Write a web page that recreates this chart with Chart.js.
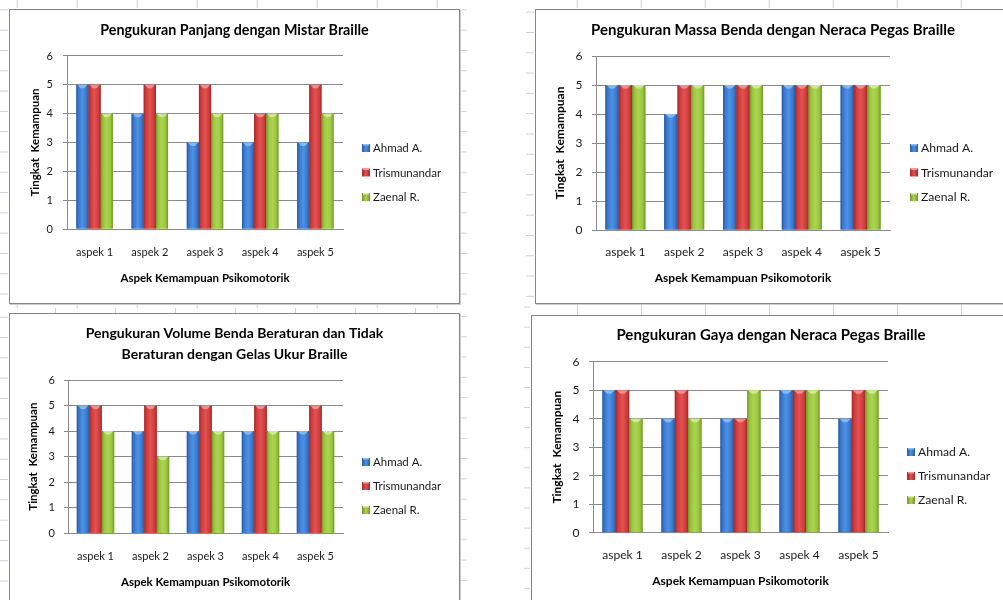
<!DOCTYPE html>
<html>
<head>
<meta charset="utf-8">
<script src="https://cdn.jsdelivr.net/npm/chart.js@4.4.1/dist/chart.umd.min.js"></script>
<style>
  html, body { margin: 0; padding: 0; background: #fff; }
  body { width: 1003px; height: 600px; position: relative; overflow: hidden; font-family: Lato, sans-serif; }
  .box { position: absolute; box-sizing: border-box; border: 1px solid #858585; background: #fff;
         box-shadow: 1px 1px 0 #cdcdcd; }
  .stub { position: absolute; background-repeat: repeat; }
  canvas { position: absolute; }
</style>
</head>
<body>
<div class="box" style="left:9px;top:9px;width:451px;height:295px"></div>
<div class="box" style="left:535px;top:9px;width:480px;height:295px"></div>
<div class="box" style="left:9px;top:313px;width:451px;height:300px"></div>
<div class="box" style="left:531px;top:315px;width:480px;height:300px"></div>

<canvas id="c1" width="449" height="293" style="left:10px;top:10px"></canvas>
<canvas id="c2" width="474" height="293" style="left:536px;top:10px"></canvas>
<canvas id="c3" width="449" height="286" style="left:10px;top:314px"></canvas>
<canvas id="c4" width="478" height="284" style="left:532px;top:316px"></canvas>

<script>
// ---- data ----
const categories = ['aspek 1', 'aspek 2', 'aspek 3', 'aspek 4', 'aspek 5'];
const seriesNames = ['Ahmad A.', 'Trismunandar', 'Zaenal R.'];
const yTickValues = [0, 1, 2, 3, 4, 5, 6];
const xAxisTitle = 'Aspek Kemampuan Psikomotorik';
const yAxisTitle = 'Tingkat  Kemampuan';

const titlePanjang = 'Pengukuran Panjang dengan Mistar Braille';
const panjangAhmad = [5, 4, 3, 3, 3];
const panjangTris = [5, 5, 5, 4, 5];
const panjangZaenal = [4, 4, 4, 4, 4];

const titleMassa = 'Pengukuran Massa Benda dengan Neraca Pegas Braille';
const massaAhmad = [5, 4, 5, 5, 5];
const massaTris = [5, 5, 5, 5, 5];
const massaZaenal = [5, 5, 5, 5, 5];

const titleVolume = ['Pengukuran Volume Benda Beraturan dan Tidak', 'Beraturan dengan Gelas Ukur Braille'];
const volumeAhmad = [5, 4, 4, 4, 4];
const volumeTris = [5, 5, 5, 5, 5];
const volumeZaenal = [4, 3, 4, 4, 4];

const titleGaya = 'Pengukuran Gaya dengan Neraca Pegas Braille';
const gayaAhmad = [5, 4, 4, 5, 4];
const gayaTris = [5, 5, 4, 5, 5];
const gayaZaenal = [4, 4, 5, 5, 5];

// ---- styling ----
const FONT = 'Lato, "Open Sans", sans-serif';
const GRID = '#8a8a8a';
const palette = [
  { base: '#3b78cc', dark: '#27599e', light: '#4d92e6', cap: '#8fc0f5' },
  { base: '#d03b3b', dark: '#a12828', light: '#e25252', cap: '#f29a9a' },
  { base: '#98c43c', dark: '#6e952a', light: '#aed452', cap: '#d6ef9a' }
];

// decorative spreadsheet gridline stubs around the embedded charts
function stubs(x, y, w, h, dir, period, offset) {
  const d = document.createElement('div');
  d.className = 'stub';
  d.style.left = x + 'px'; d.style.top = y + 'px';
  d.style.width = w + 'px'; d.style.height = h + 'px';
  const c = '#c7d0dd';
  if (dir === 'h') {
    d.style.backgroundImage = `linear-gradient(to bottom, ${c} 0, ${c} 1px, transparent 1px)`;
    d.style.backgroundSize = `100% ${period}px`;
    d.style.backgroundPosition = `0 ${offset}px`;
  } else {
    d.style.backgroundImage = `linear-gradient(to right, ${c} 0, ${c} 1px, transparent 1px)`;
    d.style.backgroundSize = `${period}px 100%`;
    d.style.backgroundPosition = `${offset}px 0`;
  }
  document.body.insertBefore(d, document.body.firstChild);
}
stubs(0, 0, 8, 303, 'h', 20.3, 9.4);
stubs(0, 303, 8, 297, 'h', 20.3, 13.7);
stubs(9, 0, 451, 8, 'v', 60, 7.7);
stubs(535, 0, 468, 8, 'v', 64, 41.7);
stubs(461, 0, 6, 303, 'h', 20.3, 9.4);
stubs(461, 303, 6, 297, 'h', 20.3, 13);
stubs(526, 0, 8, 303, 'h', 20.3, 11.7);
stubs(524, 303, 6, 297, 'h', 20.1, 23.7);
stubs(9, 304, 451, 4, 'v', 60, 7.7);
stubs(9, 308, 451, 5, 'v', 60, 46);
stubs(535, 305, 468, 10, 'v', 64, 42);

// glossy shading drawn over each bar Chart.js has laid out
const barGloss = {
  id: 'barGloss',
  afterDatasetsDraw(chart) {
    const ctx = chart.ctx;
    chart.getSortedVisibleDatasetMetas().forEach(meta => {
      const p = palette[meta.index % palette.length];
      meta.data.forEach(el => {
        const { x, y, base, width } = el.getProps(['x', 'y', 'base', 'width'], true);
        const left = x - width / 2, right = x + width / 2;
        const g = ctx.createLinearGradient(left, 0, right, 0);
        g.addColorStop(0, p.dark);
        g.addColorStop(0.18, p.base);
        g.addColorStop(0.5, p.light);
        g.addColorStop(0.82, p.base);
        g.addColorStop(1, p.dark);
        ctx.save();
        ctx.fillStyle = g;
        ctx.fillRect(left, y, width, base - y);
        // bevelled top edge
        ctx.fillStyle = p.cap;
        ctx.globalAlpha = 0.85;
        ctx.beginPath();
        ctx.moveTo(left + 1, y);
        ctx.lineTo(right - 1, y);
        ctx.lineTo(x + 2, y + 3.5);
        ctx.lineTo(x - 2, y + 3.5);
        ctx.closePath();
        ctx.fill();
        ctx.restore();
      });
    });
  }
};

// legend column placed to the right of the plot area
const sideLegend = {
  id: 'sideLegend',
  afterDraw(chart, args, o) {
    const ctx = chart.ctx, area = chart.chartArea;
    ctx.save();
    ctx.font = `${o.size}px ${FONT}`;
    ctx.textBaseline = 'middle';
    ctx.textAlign = 'left';
    chart.data.datasets.forEach((ds, i) => {
      const p = palette[i % palette.length];
      const bx = area.right + o.gap, cy = o.top + i * o.step;
      const g = ctx.createLinearGradient(bx, 0, bx + 8, 0);
      g.addColorStop(0, p.dark); g.addColorStop(0.5, p.light); g.addColorStop(1, p.dark);
      ctx.fillStyle = g;
      ctx.fillRect(bx, cy - 4, 8, 8);
      ctx.fillStyle = p.cap;
      ctx.fillRect(bx + 1, cy - 4, 6, 1.5);
      ctx.fillStyle = '#1a1a1a';
      ctx.fillText(ds.label, bx + 11, cy + 0.5);
    });
    ctx.restore();
  }
};

function makeChart(id, title, values, L) {
  const datasets = values.map((v, i) => ({
    label: seriesNames[i],
    data: v,
    backgroundColor: palette[i].base,
    borderWidth: 0,
    categoryPercentage: L.groupFrac,
    barPercentage: 1
  }));
  return new Chart(document.getElementById(id), {
    type: 'bar',
    data: { labels: categories, datasets },
    options: {
      responsive: false,
      animation: false,
      layout: { padding: 0 },
      plugins: {
        legend: { display: false },
        tooltip: { enabled: false },
        title: {
          display: true,
          text: title,
          color: '#000',
          font: { family: FONT, size: L.titleSize, weight: 'bold', lineHeight: L.titleLH },
          padding: { top: L.titleTop, bottom: L.titleBottom }
        },
        sideLegend: { gap: L.legGap, top: L.legTop, step: L.legStep, size: L.legSize }
      },
      scales: {
        x: {
          grid: { display: false, drawTicks: false },
          border: { display: true, color: GRID },
          ticks: { color: '#1a1a1a', padding: L.xTickPad, font: { family: FONT, size: L.tickSize } },
          title: {
            display: true, text: xAxisTitle, color: '#000',
            font: { family: FONT, size: L.axisTitleSize, weight: 'bold' },
            padding: { top: 0, bottom: L.xTitlePad }
          },
          afterFit: s => { s.width = s.width; s.height = L.xAxisH; }
        },
        y: {
          min: 0, max: 6,
          afterBuildTicks: s => { s.ticks = yTickValues.map(v => ({ value: v })); },
          grid: { color: GRID, tickLength: 4, drawTicks: true },
          border: { display: true, color: GRID },
          ticks: { color: '#1a1a1a', padding: L.yTickPad, font: { family: FONT, size: L.tickSize } },
          title: {
            display: true, text: yAxisTitle, color: '#000',
            font: { family: FONT, size: L.axisTitleSize, weight: 'bold' },
            padding: { top: L.yTitlePad, bottom: 0 }
          },
          afterFit: s => { s.width = L.yAxisW; }
        },
        // empty right-hand axis that keeps room for the legend column
        legendRoom: {
          position: 'right', display: true, min: 0, max: 6,
          grid: { display: false, drawTicks: false },
          border: { display: false },
          ticks: { display: false },
          afterFit: s => { s.width = L.padRight; }
        }
      }
    },
    plugins: [barGloss, sideLegend]
  });
}

makeChart('c1', titlePanjang, [panjangAhmad, panjangTris, panjangZaenal], {
  groupFrac: 0.66, padRight: 116, yAxisW: 57, xAxisH: 74,
  titleSize: 14.3, titleLH: 1.2, titleTop: 11.4, titleBottom: 17.4,
  tickSize: 11, axisTitleSize: 11.5, xTickPad: 16.4, xTitlePad: 18.1, yTickPad: 10, yTitlePad: 18.1,
  legGap: 19, legTop: 138, legStep: 24.5, legSize: 11.5
});
makeChart('c2', titleMassa, [massaAhmad, massaTris, massaZaenal], {
  groupFrac: 0.68, padRight: 120, yAxisW: 60, xAxisH: 73,
  titleSize: 15, titleLH: 1.2, titleTop: 11, titleBottom: 17,
  tickSize: 12, axisTitleSize: 12, xTickPad: 14.8, xTitlePad: 17.8, yTickPad: 9.5, yTitlePad: 16.8,
  legGap: 20, legTop: 138, legStep: 24.5, legSize: 12.2
});
makeChart('c3', titleVolume, [volumeAhmad, volumeTris, volumeZaenal], {
  groupFrac: 0.68, padRight: 116, yAxisW: 58, xAxisH: 66.7,
  titleSize: 14, titleLH: '21px', titleTop: 8.5, titleBottom: 15.5,
  tickSize: 11, axisTitleSize: 11.5, xTickPad: 16.1, xTitlePad: 11.1, yTickPad: 9, yTitlePad: 16.1,
  legGap: 19, legTop: 148, legStep: 24, legSize: 11.5
});
makeChart('c4', titleGaya, [gayaAhmad, gayaTris, gayaZaenal], {
  groupFrac: 0.68, padRight: 122, yAxisW: 61, xAxisH: 67.3,
  titleSize: 15, titleLH: 1.2, titleTop: 10, titleBottom: 17.7,
  tickSize: 12, axisTitleSize: 12, xTickPad: 15.1, xTitlePad: 11.8, yTickPad: 9.5, yTitlePad: 17.8,
  legGap: 19, legTop: 136, legStep: 24, legSize: 12.2
});
</script>
</body>
</html>
